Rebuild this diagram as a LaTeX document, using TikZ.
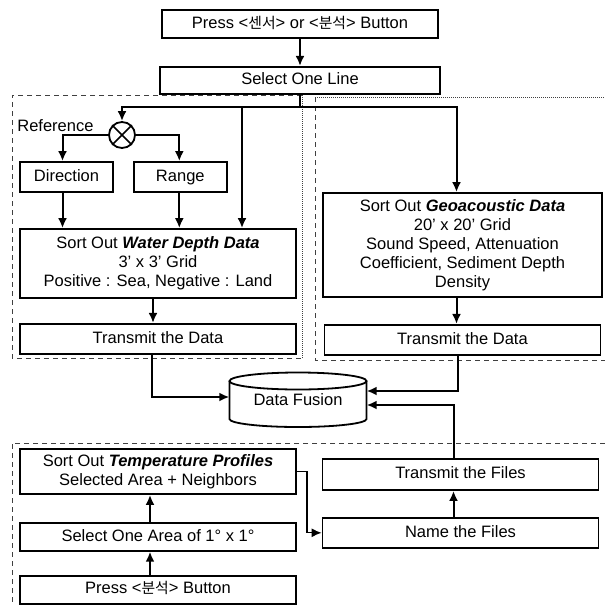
\documentclass[tikz,border=0pt]{standalone}
\usepackage{fontspec}
\setmainfont{Liberation Sans}
\newfontfamily\kr{Noto Sans CJK KR}[Scale=0.9]
\usetikzlibrary{positioning,arrows.meta}
\tikzset{every node/.style={align=center}, >={Latex[length=10pt,width=9pt]},
  font=\fontsize{16.5}{19}\selectfont,
  box/.style={draw, line width=1.8pt, inner sep=0pt},
  one/.style={box, text height=12pt, text depth=3.5pt},
  link/.style={->, line width=2pt},
  region/.style={draw=black!75, line width=0.7pt, dash pattern=on 5pt off 4pt},
  dotline/.style={draw=black!75, line width=0.7pt, dash pattern=on 1pt off 1pt}}

\begin{document}
\begin{tikzpicture}[x=1pt, y=-1pt]
\useasboundingbox (0,0) rectangle (605,606);
% groups
\draw[region] (302,95) -- (12,95) -- (12,358) -- (302,358);
\draw[dotline] (302,95) -- (302,358);
\draw[dotline] (315,97) -- (605,97);
\draw[region] (315,97) -- (315,360) -- (605,360);
\draw[region] (605,443) -- (12,443) -- (12,606);

\node [one, minimum width=276pt, minimum height=28pt] (press) at (300,24) {Press <{\kr 센서}> or <{\kr 분석}> Button};
\node [one, minimum width=280pt, minimum height=27pt, below=27pt of press] (line) {Select One Line};

\node [draw, circle, line width=1.8pt, minimum size=26pt, inner sep=0pt] (mix) at (122,135) {};
\draw[line width=1.6pt] (mix.45) -- (mix.225) (mix.135) -- (mix.315);
\node [anchor=base east] (ref) at (97,131) {Reference};
\node [one, minimum width=93pt, minimum height=30pt] (dir) at (66.5,177) {Direction};
\node [one, minimum width=93pt, minimum height=30pt, right=19pt of dir] (range) {Range};
\node [box, minimum width=276pt, minimum height=69pt] (water) at (158,263.5) {Sort Out \textbf{\textit{Water Depth Data}}\\3' x 3' Grid\\Positive : Sea, Negative : Land};
\node [one, minimum width=276pt, minimum height=30pt, below=24pt of water] (tdata) {Transmit the Data};

\node [box, minimum width=279pt, minimum height=104pt] (geo) at (462.5,245) {Sort Out \textbf{\textit{Geoacoustic Data}}\\20' x 20' Grid\\Sound Speed, Attenuation\\Coefficient, Sediment Depth\\Density};
\node [one, minimum width=276pt, minimum height=30pt, below=26pt of geo] (tgeo) {Transmit the Data};

\node [minimum width=137pt, minimum height=54pt] (fusion) at (298,400) {\raisebox{-7pt}{Data Fusion}};
\draw[line width=1.8pt] (229.5,381) -- (229.5,419) arc[start angle=180, end angle=0, x radius=68.5, y radius=8] -- (366.5,381);
\draw[line width=1.8pt] (298,381) ellipse [x radius=68.5, y radius=8.5];

\node [box, minimum width=276pt, minimum height=45pt] (temp) at (158,471.5) {Sort Out \textbf{\textit{Temperature Profiles}}\\Selected Area + Neighbors};
\node [one, minimum width=276pt, minimum height=28pt, below=27pt of temp] (area) {Select One Area of 1° x 1°};
\node [one, minimum width=276pt, minimum height=28pt, below=23pt of area] (press2) {Press <{\kr 분석}> Button};
\node [one, minimum width=276pt, minimum height=31pt] (tfiles) at (460.5,474.5) {Transmit the Files};
\node [one, minimum width=276pt, minimum height=30pt, below=26pt of tfiles] (name) {Name the Files};

% connectors
\draw[link] (press) -- (line);
\draw[line width=2pt] (line.south) -- ++(0,12) coordinate (split);
\draw[link] (split) -| (mix.north);
\draw[link] (split) -| ([xshift=-6pt]geo.north);
\coordinate (wtop) at ([xshift=84pt]water.north);
\draw[link] (split -| wtop) -- (wtop);
\draw[link] (mix.west) -| ([xshift=-4pt]dir.north);
\draw[link] (mix.east) -| ([xshift=-1pt]range.north);
\draw[link] ([xshift=-4pt]dir.south) -- ([xshift=-4pt]dir.south |- water.north);
\draw[link] ([xshift=-1pt]range.south) -- ([xshift=-1pt]range.south |- water.north);
\draw[link] ([xshift=-5pt]water.south) -- ([xshift=-5pt]water.south |- tdata.north);
\draw[link] ([xshift=-6pt]tdata.south) |- ([yshift=3pt]fusion.west);
\draw[link] ([xshift=-6pt]geo.south) -- ([xshift=-6pt]geo.south |- tgeo.north);
\draw[link] ([xshift=-5pt]tgeo.south) |- ([yshift=9pt]fusion.east);
\draw[link] ([xshift=-7pt]tfiles.north) |- ([yshift=-5pt]fusion.east);
\draw[link] ([xshift=-7pt]name.north) -- ([xshift=-7pt]tfiles.south);
\draw[link] ([xshift=-8pt]press2.north) -- ([xshift=-8pt]area.south);
\draw[link] ([xshift=-8pt]area.north) -- ([xshift=-8pt]temp.south);
\draw[->, line width=1.3pt] (temp.east) -- ++(10,0) |- (name.west);
\end{tikzpicture}
\end{document}
